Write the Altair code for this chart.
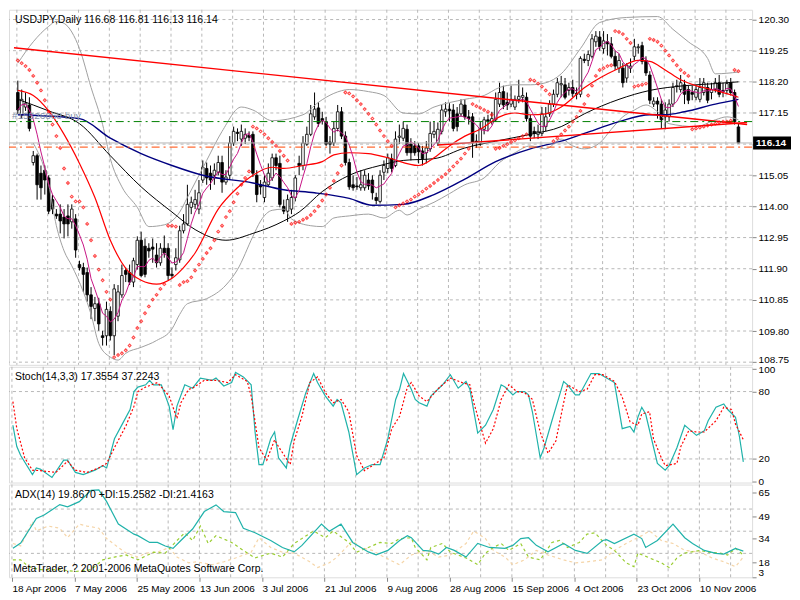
import altair as alt
import pandas as pd

# ---------------- data ----------------
dates = ["18 Apr 2006", "7 May 2006", "25 May 2006", "13 Jun 2006", "3 Jul 2006", "21 Jul 2006",
         "9 Aug 2006", "28 Aug 2006", "15 Sep 2006", "4 Oct 2006", "23 Oct 2006", "10 Nov 2006"]

opens = [117.84,117.09,117.35,117.42,115.48,115.71,115.12,115.22,114.96,114.23,
         113.74,113.74,113.64,113.68,113.48,113.58,112.04,111.94,111.77,111.02,
         110.56,110.72,109.64,109.64,110.46,109.64,110.30,111.02,111.84,111.77,
         111.45,112.04,112.86,112.66,112.59,112.63,112.36,112.10,112.59,112.59,
         111.71,112.04,112.20,113.18,113.41,113.97,114.07,113.91,114.89,115.28,
         115.12,115.05,115.15,115.48,114.82,115.05,116.14,116.50,116.27,116.30,
         116.40,116.43,115.05,114.73,114.30,114.73,114.96,115.64,115.45,114.00,
         113.84,113.91,114.30,115.45,115.38,116.10,116.43,117.02,117.32,116.96,
         116.86,116.17,116.14,116.63,117.19,116.37,115.48,114.73,114.69,114.63,
         114.63,114.89,114.89,114.30,114.17,115.15,115.28,115.61,115.38,116.33,
         116.30,116.60,116.10,116.04,116.04,115.87,115.81,115.94,116.43,116.14,
         116.53,117.19,117.28,117.25,117.12,117.12,117.42,117.02,117.02,116.20,
         116.14,116.60,116.92,116.86,116.92,117.45,117.87,117.51,117.45,117.35,
         117.61,117.68,117.68,116.96,116.53,116.43,116.46,116.69,117.12,117.45,
         117.78,118.10,118.10,117.91,118.01,117.81,117.78,118.96,118.92,119.06,
         119.55,119.71,119.32,119.55,119.48,119.06,118.66,118.66,118.33,118.66,
         119.06,119.35,119.42,118.92,118.43,117.45,117.55,117.45,117.02,117.02,
         117.45,118.04,117.94,118.10,117.94,117.84,117.68,117.61,117.84,118.01,
         117.84,117.94,118.17,117.91,117.91,118.17,117.84,116.68]
highs = [118.24,117.94,117.84,117.68,115.87,115.78,115.38,115.38,115.05,114.40,
         113.91,114.07,113.91,114.07,114.07,113.74,112.17,112.10,111.94,111.28,
         110.95,110.92,109.81,110.79,110.63,111.38,111.35,112.04,111.94,112.04,
         112.27,112.99,113.15,112.92,112.76,112.92,112.76,112.76,113.02,112.76,
         111.94,112.59,113.35,113.74,114.73,114.33,114.56,114.89,115.55,115.48,
         115.38,115.45,115.71,115.71,115.22,116.37,116.69,116.63,116.76,116.63,
         116.53,116.53,115.22,114.89,115.05,115.45,115.78,115.78,115.71,114.23,
         114.40,114.56,115.05,115.71,116.37,116.69,117.42,117.84,117.51,117.19,
         117.02,116.37,116.86,117.42,117.35,116.53,115.61,115.05,114.99,115.22,
         115.22,115.12,115.05,114.46,115.22,115.55,115.78,115.78,116.53,116.76,
         116.86,116.76,116.30,116.20,116.14,116.04,116.20,116.86,116.86,116.83,
         117.42,117.51,117.48,117.45,117.35,117.61,117.61,117.25,117.15,116.43,
         116.86,117.02,117.09,117.19,117.84,118.17,118.07,117.84,118.07,117.74,
         118.27,118.01,117.84,117.09,116.69,116.76,117.35,117.35,117.58,117.94,
         118.33,118.40,118.33,118.17,118.27,118.01,119.06,119.15,119.25,119.81,
         119.91,119.91,119.91,119.81,119.71,119.25,119.15,118.83,118.83,118.99,
         119.65,119.48,119.55,119.06,118.56,117.68,117.68,117.61,117.51,117.61,
         118.17,118.27,118.43,118.27,118.07,118.07,118.07,118.33,118.33,118.17,
         118.17,118.33,118.43,118.17,118.27,118.33,117.94,116.81]
lows = [117.12,116.96,117.22,116.53,115.38,114.23,114.23,114.40,113.74,113.74,
        113.58,113.09,112.92,112.99,113.25,112.27,111.84,111.12,110.79,110.20,
        110.13,109.81,109.31,109.31,109.48,108.99,110.13,110.92,111.45,111.35,
        111.28,111.87,111.61,111.61,112.27,112.10,111.94,112.00,112.27,111.51,
        111.58,111.84,112.10,113.09,113.35,113.74,113.91,113.74,114.79,114.73,
        114.56,114.73,115.05,114.46,114.73,114.89,116.04,116.20,116.04,116.10,
        116.20,114.99,114.14,114.40,114.14,114.66,114.86,115.22,113.97,113.74,
        113.48,113.74,114.17,115.05,115.22,116.04,116.37,116.92,116.69,116.76,
        116.04,115.78,116.04,116.53,116.27,115.38,114.56,114.53,114.56,114.53,
        114.53,114.56,114.23,114.07,114.10,114.89,115.12,115.15,115.32,116.10,
        116.20,115.71,115.55,115.71,115.45,115.38,115.45,115.84,116.30,116.04,
        116.43,117.02,116.86,116.53,116.53,117.02,116.92,116.76,115.64,115.97,
        116.04,116.43,116.53,116.76,116.86,117.35,117.28,117.25,117.35,117.25,
        117.48,117.51,116.86,116.20,116.30,116.27,116.37,116.53,117.02,117.35,
        117.68,117.68,117.61,117.74,117.68,117.61,117.68,118.83,118.73,118.99,
        119.38,119.25,119.15,119.09,118.99,118.60,118.50,118.01,118.17,118.50,
        118.92,119.15,118.79,118.40,117.45,117.35,116.96,116.63,116.60,116.86,
        117.35,117.84,117.84,117.45,117.45,117.58,117.58,117.51,117.74,117.48,
        117.61,117.84,117.68,117.68,117.78,117.74,116.76,116.13]
closes = [117.25,117.61,117.48,116.63,115.71,114.73,114.63,114.89,113.84,113.91,
          113.68,113.51,113.41,113.41,113.91,112.53,111.94,111.71,111.02,110.63,
          110.72,110.04,109.58,110.53,109.64,111.22,111.12,111.67,111.71,111.45,
          112.17,112.86,111.67,111.71,112.50,112.56,112.10,112.59,112.43,111.67,
          111.67,112.27,113.18,113.41,114.07,114.14,114.23,114.46,115.32,114.96,
          114.89,115.22,115.48,114.82,114.99,116.14,116.53,116.46,116.53,116.43,
          116.33,115.12,114.40,114.66,114.82,115.12,115.64,115.38,114.07,113.84,
          114.23,114.30,114.96,115.38,116.14,116.43,117.12,117.28,116.79,116.89,
          116.10,116.10,116.63,117.19,116.37,115.48,114.66,114.63,114.66,114.73,
          115.05,114.69,114.46,114.20,115.05,115.38,115.64,115.28,116.27,116.37,
          116.63,115.81,115.81,115.81,115.84,115.61,115.97,116.46,116.53,116.60,
          117.25,117.28,117.22,116.63,116.69,117.45,117.02,116.96,116.14,116.17,
          116.63,116.92,116.86,116.96,117.61,117.84,117.42,117.42,117.61,117.61,
          117.71,117.74,116.96,116.37,116.46,116.53,117.12,117.02,117.45,117.78,
          118.17,118.14,117.68,118.01,117.81,117.78,118.99,118.92,119.12,119.65,
          119.74,119.38,119.58,119.48,119.06,118.73,118.92,118.17,118.76,118.73,
          119.38,119.38,118.89,118.50,117.58,117.55,117.45,116.92,117.25,117.45,
          118.01,118.07,118.17,117.78,117.58,117.78,117.94,118.01,118.17,117.58,
          117.94,118.17,117.78,117.87,118.14,117.84,116.86,116.14]

sar = [118.92,118.83,118.73,118.60,118.40,118.17,117.91,117.58,117.19,116.76,
       116.37,115.97,115.28,114.79,114.33,114.17,114.17,113.97,113.41,112.86,
       112.33,111.87,111.51,111.12,110.86,
       108.92,108.99,109.05,109.15,109.31,109.58,109.90,110.13,110.40,110.63,110.86,111.02,111.22,111.38,
       113.35,113.35,113.32,
       111.35,111.45,111.48,111.61,111.84,112.04,112.23,112.43,112.59,112.86,113.15,113.35,113.64,113.84,
       114.14,114.43,114.73,114.96,115.18,
       116.69,116.63,116.53,116.43,116.30,116.17,116.04,115.87,115.71,115.55,
       113.41,113.45,113.48,113.55,113.61,113.71,113.84,114.00,114.20,114.40,114.63,114.86,115.12,115.38,
       117.84,117.81,117.71,117.58,117.45,117.28,117.12,116.96,116.76,116.56,116.37,116.20,116.04,
       113.97,114.04,114.10,114.17,114.23,114.33,114.40,114.50,114.60,114.69,114.79,114.89,114.99,115.09,
       115.22,115.35,115.48,115.61,115.78,115.94,
       117.45,117.38,117.32,117.25,117.19,117.09,
       115.94,115.97,116.04,116.10,116.17,116.23,116.30,116.37,116.43,
       118.27,118.24,118.14,118.04,117.91,117.78,
       116.20,116.30,116.43,116.56,116.69,116.86,117.02,117.22,117.45,117.74,118.07,118.40,118.60,118.66,
       118.73,118.76,
       119.91,119.88,119.81,119.65,119.51,
       118.04,118.07,118.10,118.14,
       119.65,119.61,119.55,119.42,119.25,119.09,118.92,118.76,118.60,118.50,118.40,
       116.60,116.63,116.66,116.69,116.73,116.76,116.79,116.83,116.86,116.86,116.89,
       118.60,118.56]

navy_bars = [0,16,24,32,40,48,61,69,77,86,92,100,108,116,124,133,141,147,156,164,168,173,181,187]
navy_vals = [117.09,116.96,116.30,115.78,115.38,115.05,114.79,114.56,114.46,114.27,114.04,114.07,
             114.40,114.92,115.51,115.94,116.20,116.46,116.86,117.09,117.09,117.19,117.45,117.61]
black_bars = [0,8,16,24,32,40,46,54,61,69,73,79,86,94,100,108,116,124,133,141,147,156,164,173,181,187]
black_vals = [117.61,117.22,116.79,115.71,114.66,113.81,113.22,112.86,113.09,113.51,113.81,114.50,
              115.05,115.38,115.55,115.61,115.97,116.20,116.43,116.69,117.12,117.61,117.91,118.07,
              118.14,118.20]
red_bars = [0,4,8,12,16,20,24,28,32,36,40,43,46,52,57,61,66,69,74,79,82,86,91,96,104,108,112,116,
            120,125,129,133,137,141,147,156,161,164,168,172,176,181,187]
red_vals = [117.91,117.74,117.22,116.43,115.45,114.30,112.86,111.91,111.51,111.38,111.58,111.94,
            112.43,113.91,114.63,115.05,115.32,115.28,115.38,115.51,115.74,115.81,115.78,115.64,
            115.38,115.64,116.04,116.37,116.60,117.02,117.15,117.09,117.12,117.35,118.00,118.66,
            118.92,118.89,118.60,118.27,118.07,117.91,117.68]
bb_up_bars = [0,4,8,10,12,16,19,22,24,27,31,34,38,42,44,49,53,58,61,66,74,78,82,86,91,95,100,104,
              108,116,121,125,129,133,137,141,146,151,158,166,170,174,179,181,187]
bb_up_vals = [118.83,119.55,120.07,120.24,120.17,119.32,118.01,116.76,115.61,114.66,113.97,113.32,
              113.38,113.81,114.30,115.55,116.53,117.35,117.25,116.89,117.09,117.51,117.81,117.94,
              117.87,117.74,117.15,117.12,117.35,117.61,117.74,118.01,118.10,118.10,118.17,118.47,
              119.32,120.20,120.37,120.40,119.97,119.55,118.99,118.47,118.53]
bb_lo_bars = [4,8,10,12,14,17,19,21,24,26,28,32,36,40,42,44,49,54,57,61,63,66,69,71,76,79,82,86,
              91,95,99,101,104,108,112,116,121,125,129,133,137,141,144,147,151,154,157,160,163,166,
              169,176,181,184,187]
bb_lo_vals = [116.14,114.73,113.35,112.50,112.00,111.12,110.36,109.38,108.92,108.82,109.05,109.25,
              109.48,109.87,110.36,110.72,110.89,111.35,111.87,112.99,113.51,113.87,113.91,113.58,
              113.35,113.32,113.61,113.68,113.74,113.61,113.87,113.71,113.91,114.14,114.43,114.73,
              114.96,115.48,115.81,116.04,115.94,116.27,116.04,115.94,116.14,116.60,117.02,117.25,
              117.42,117.19,116.79,116.69,116.92,117.02,116.92]

trend_down_bars = [-1, 189.25]
trend_down_vals = [119.35, 116.76]
trend_up_bars = [109, 189.25]
trend_up_vals = [116.07, 116.83]
level_green = [116.86]
level_orange = [116.00]
level_bid = [116.14]
order_label = ["#15526868 buy"]
order_price = [117.05]

price_ticks = [120.30, 119.25, 118.20, 117.15, 116.10, 115.05, 114.00, 112.95, 111.90, 110.85, 109.80, 108.75]
sto_ticks = [0, 20, 80, 100]
sto_levels = [20, 80]
adx_ticks = [65, 49, 34, 18, 7.8]
adx_grid_levels = [54, 39, 24]

k_bars = [0,1,2,5,6,7,10,13,14,16,18,21,23,24,25,26,28,30,31,32,34,35,36,38,40,41,42,44,46,48,51,52,54,
          56,57,59,61,62,63,64,66,67,68,70,71,73,75,77,78,80,82,83,84,86,88,90,92,94,96,98,99,100,102,
          103,104,106,107,110,112,114,116,117,119,121,123,125,126,128,129,131,132,133,135,136,138,141,
          142,144,145,148,150,152,154,156,158,159,160,161,162,165,167,168,170,172,173,175,177,178,180,
          182,183,185,186,187]
k_vals = [50,31,23,6,12,11,3.5,19,19,8,6,10,14,12,25,38,51,64,80,84,86,90,86,86,67,46,67,86,83,92,90,92,
          85,88,97,93,86,44,15,15,38,44,21,12,32,56,79,96,88,76,67,73,70,44,6,12,15,15,38,73,82,96,82,
          73,70,67,76,86,95,83,89,82,43,50,64,86,84,77,80,80,77,62,21,30,54,89,86,77,77,96,96,92,88,47,
          49,44,57,66,60,16,10,14,30,50,47,41,45,54,66,69,64,57,40,17.36]
d_bars = [0,1,3,5,7,11,14,16,19,22,24,26,29,31,32,34,37,38,40,42,43,45,46,49,52,55,57,60,61,63,65,67,68,
          71,72,74,76,78,80,82,84,86,88,90,92,95,97,99,101,102,104,106,109,112,115,117,118,121,123,125,
          127,129,131,133,135,137,139,141,142,145,147,149,151,154,156,158,160,161,163,164,166,167,170,
          171,173,175,177,180,182,184,185,187]
d_vals = [71,47,21,10,9.6,8,18,10,8,12,16,30,50,67,80,84,88,84,76,56,70,82,83,90,90,88,95,89,76,30,19,37,
          31,15,36,58,88,93,79,70,73,62,23,9.6,14,21,47,58,84,88,76,71,83,92,88,86,70,34,47,73,86,80,79,
          73,44,25,36,70,86,80,82,95,95,89,75,53,50,60,62,38,21,14,16,31,45,44,44,54,66,64,51,37.22]

adx_bars = [0,2,6,8,12,14,17,20,22,24,27,31,32,35,37,39,41,43,46,49,52,54,57,59,62,66,69,72,74,79,81,84,
            87,91,93,96,99,101,102,105,107,109,111,113,116,119,122,126,128,130,132,134,137,141,144,147,
            151,152,154,159,161,162,165,169,172,174,177,180,182,185,187]
adx_vals = [27.4,31,47.7,50,57,55.5,59,66.6,67,59,43.8,37,36,31.4,31.4,29,27.4,32.7,40.5,52.3,56.8,52.3,
            51.6,41,38,32.7,28,25,29.4,43.8,39,43.8,31.4,25,23,26,32.7,36,34.6,26,25.5,23.5,28,26,21.5,
            30.7,28,27.4,29.4,34,34.6,29.4,25,30.7,26,24,32.7,33.3,30.7,37,34,28,32.7,43.8,34.6,30.7,26,
            24,23.5,27.4,25.5]
pdi_bars = [0,2,4,7,12,16,20,23,26,29,32,36,39,42,44,46,48,50,52,56,59,62,66,69,72,74,77,80,82,86,88,91,
            94,97,99,102,103,106,107,110,112,116,119,121,123,125,127,130,132,135,138,140,142,145,147,149,
            152,154,157,159,160,163,166,168,170,172,176,178,181,183,185,187]
pdi_vals = [19.6,19.6,15,13,13,11.7,13,19.6,21.5,22.9,19.6,24.8,24.2,32.7,37.9,32.7,42.5,30.7,36,31.4,26,
            20.9,24.2,21.5,30.7,34,39.2,34.6,39.2,31.4,24.8,28,31.4,30.7,34,34.6,28,19.6,28,30.7,24.8,
            20.9,16.3,24.2,28,30.7,26,30.7,21.5,19.6,31.4,32.7,28,31.4,37,37.9,29.4,26,17.6,15,24.2,20.9,
            17.6,14.4,20.9,24.2,26,24.8,24.2,22.9,27.4,22.9]
mdi_bars = [0,2,5,6,9,12,14,17,19,22,24,27,29,32,34,37,40,42,45,47,51,54,57,61,63,66,69,72,76,78,81,83,
            87,89,92,95,99,102,106,109,112,116,118,121,123,126,128,131,134,137,141,144,147,151,154,157,
            161,163,166,169,172,176,179,182,185,187]
mdi_vals = [30.7,29,45.7,39.2,42.5,41,34.6,43.8,42.5,41,34,28,24.2,21.5,24.2,24.8,28,21.5,17.6,18.3,16.3,
            18.3,20.9,24.8,34.6,28,24.8,24.2,18.3,14.4,17.6,21.5,32.7,28,26,21.5,16.3,22.9,26,21.5,22.9,
            30.7,39.2,34,26,21.5,16.3,19.6,26,22.9,19.6,17.6,18.3,19.6,26,30.7,36,39.2,32.7,30.7,26,24.8,
            20.9,18.3,15,21.5]

main_title = ["USDJPY,Daily  116.68 116.81 116.13 116.14"]
sto_title = ["Stoch(14,3,3) 17.3554 37.2243"]
adx_title = ["ADX(14) 19.8670 +DI:15.2582 -DI:21.4163"]
copyright_text = ["MetaTrader, ? 2001-2006 MetaQuotes Software Corp."]

# ---------------- layout / styles ----------------
W = 745
H_MAIN, H_STO, H_ADX = 356, 116, 93
FONT = "Liberation Sans"
GRIDC = "#b8b8b8"
GRID_X = [-0.25 + 8 * k for k in range(24)]
xs = alt.Scale(domain=[-1, 189.25], nice=False, zero=False)
ys_main = alt.Scale(domain=[108.66, 120.63], nice=False, zero=False)
ys_sto = alt.Scale(domain=[-1, 102], nice=False, zero=False)
ys_adx = alt.Scale(domain=[7.8, 70.6], nice=False, zero=False)

js_dates = "[" + ",".join("'" + d + "'" for d in dates) + "]"
adx_x_axis = alt.Axis(
    values=GRID_X, grid=False, tickSize=4, labelPadding=2, domain=False, title=None,
    labelAlign="left", labelOverlap=False, labelFlush=False, labelBound=False,
    labelExpr="(round(datum.value + 0.25) % 16 == 0) ? " + js_dates +
              "[round((datum.value + 0.25) / 16)] : ''",
    tickOpacity={"condition": {"test": "round(datum.value + 0.25) % 16 != 0", "value": 0}, "value": 1})
main_y_axis = alt.Axis(orient="right", values=price_ticks, grid=False, tickSize=4, labelPadding=2,
                       domain=False, title=None, labelOverlap=False, labelFlush=False,
                       labelExpr="abs(datum.value - 116.1) < 0.001 ? '' : format(datum.value, '.2f')",
                       labelBaseline={"condition": {"test": "datum.value < 109", "value": "alphabetic"},
                                      "value": "middle"})
sto_axis = alt.Axis(orient="right", values=sto_ticks, grid=False, tickSize=4, labelPadding=2,
                    domain=False, title=None, labelFlush=True, labelOverlap=False)
adx_y_axis = alt.Axis(orient="right", values=adx_ticks, grid=False, tickSize=4,
                      labelPadding=2, domain=False, title=None, labelOverlap=False, labelFlush=False,
                      labelExpr="datum.value < 10 ? '3' : datum.label",
                      labelBaseline={"condition": {"test": "datum.value < 10", "value": "bottom"},
                                     "value": "middle"})

n = min(len(opens), len(highs), len(lows), len(closes))
candles = pd.DataFrame({"i": list(range(n)), "o": opens[:n], "h": highs[:n],
                        "l": lows[:n], "c": closes[:n]})
sar_df = pd.DataFrame({"i": list(range(len(sar))), "v": sar})


def X(xaxis):
    return alt.X("i:Q", scale=xs, axis=xaxis, title=None)


def Y(field, scale, yaxis):
    return alt.Y(field, scale=scale, axis=yaxis, title=None)


def line(bars, vals, scale, xaxis, yaxis, color, width=1.0, dash=None, interp="monotone"):
    df = pd.DataFrame({"i": bars, "v": vals})
    kw = dict(color=color, strokeWidth=width, interpolate=interp, clip=True)
    if dash:
        kw["strokeDash"] = dash
    return alt.Chart(df).mark_line(**kw).encode(x=X(xaxis), y=Y("v:Q", scale, yaxis))


def hline(vals, scale, yaxis, color, dash=None, width=1.0):
    df = pd.DataFrame({"v": vals})
    kw = dict(color=color, strokeWidth=width)
    if dash:
        kw["strokeDash"] = dash
    return alt.Chart(df).mark_rule(**kw).encode(y=Y("v:Q", scale, yaxis))


def vgrid(xaxis):
    df = pd.DataFrame({"i": GRID_X})
    return alt.Chart(df).mark_rule(color=GRIDC, strokeWidth=1, strokeDash=[3, 3]).encode(x=X(xaxis))


def label(texts, ypix, size=10.5, xpix=6):
    df = pd.DataFrame({"t": texts})
    return alt.Chart(df).mark_text(align="left", baseline="middle", fontSize=size, font=FONT,
                                   color="black").encode(x=alt.value(xpix), y=alt.value(ypix),
                                                          text="t:N")


# ---------------- main price panel ----------------
XA, YA = None, main_y_axis
wicks = alt.Chart(candles).mark_rule(color="black", strokeWidth=1).encode(
    x=X(XA), y=Y("l:Q", ys_main, YA), y2="h:Q")
bodies = alt.Chart(candles).mark_bar(size=2.6, stroke="black", strokeWidth=0.8).encode(
    x=X(XA), y=Y("o:Q", ys_main, YA), y2="c:Q",
    fill=alt.condition("datum.c >= datum.o", alt.value("white"), alt.value("black")))

magenta = alt.Chart(candles).transform_window(
    ma="mean(c)", frame=[-4, 0], sort=[{"field": "i"}]
).mark_line(color="#c71585", strokeWidth=1, clip=True).encode(x=X(XA), y=Y("ma:Q", ys_main, YA))

sar_pts = alt.Chart(sar_df).mark_point(shape="diamond", size=8, filled=False, color="red",
                                        strokeWidth=1.1, clip=True).encode(
    x=X(XA), y=Y("v:Q", ys_main, YA))

order_df = pd.DataFrame({"v": order_price, "t": order_label})
order_txt = alt.Chart(order_df).mark_text(align="left", baseline="middle", fontSize=10, font=FONT,
                                          color="#7f8fa8").encode(
    x=alt.value(3), y=Y("v:Q", ys_main, YA), text="t:N")

bid_df = pd.DataFrame({"v": level_bid})
bid_box = alt.Chart(bid_df).mark_tick(orient="horizontal", thickness=13, size=38, color="black",
                                      opacity=1, clip=False).encode(
    x=alt.value(W + 20), y=Y("v:Q", ys_main, YA))
bid_txt = alt.Chart(bid_df).mark_text(align="left", baseline="middle", fontSize=10, font=FONT,
                                      fontWeight="bold", color="white", clip=False).encode(
    x=alt.value(W + 4), y=Y("v:Q", ys_main, YA), text=alt.Text("v:Q", format=".2f"))

main = alt.layer(
    vgrid(XA),
    hline(price_ticks, ys_main, YA, GRIDC, [3, 3]),
    wicks, bodies,
    line(bb_up_bars, bb_up_vals, ys_main, XA, YA, "#a0a0a0"),
    line(bb_lo_bars, bb_lo_vals, ys_main, XA, YA, "#a0a0a0"),
    line(navy_bars, navy_vals, ys_main, XA, YA, "#000080", 1.4),
    line(black_bars, black_vals, ys_main, XA, YA, "black", 1.0),
    line(red_bars, red_vals, ys_main, XA, YA, "red", 1.2),
    magenta,
    line(trend_down_bars, trend_down_vals, ys_main, XA, YA, "red", 1.4, interp="linear"),
    line(trend_up_bars, trend_up_vals, ys_main, XA, YA, "red", 1.4, interp="linear"),
    hline(level_green, ys_main, YA, "#008000", [8, 4, 2, 4]),
    hline(level_orange, ys_main, YA, "#ff4500", [8, 4, 2, 4]),
    hline(level_bid, ys_main, YA, "#b8b8b8"),
    sar_pts, order_txt,
    label(main_title, 10),
    bid_box, bid_txt,
).properties(width=W, height=H_MAIN)

# ---------------- stochastic panel ----------------
sto = alt.layer(
    vgrid(None),
    hline(sto_levels, ys_sto, sto_axis, GRIDC, [3, 3]),
    line(k_bars, k_vals, ys_sto, None, sto_axis, "#20b2aa", 1.2, interp="linear"),
    line(d_bars, d_vals, ys_sto, None, sto_axis, "red", 1.2, dash=[2, 2], interp="linear"),
    label(sto_title, 10),
).properties(width=W, height=H_STO)

# ---------------- ADX panel ----------------
adx = alt.layer(
    vgrid(adx_x_axis),
    hline(adx_grid_levels, ys_adx, adx_y_axis, GRIDC, [3, 3]),
    line(mdi_bars, mdi_vals, ys_adx, adx_x_axis, adx_y_axis, "#f5d5a8", 1.2, dash=[3, 3], interp="linear"),
    line(pdi_bars, pdi_vals, ys_adx, adx_x_axis, adx_y_axis, "#9acd32", 1.2, dash=[3, 3], interp="linear"),
    line(adx_bars, adx_vals, ys_adx, adx_x_axis, adx_y_axis, "#20b2aa", 1.2, interp="linear"),
    label(adx_title, 10),
    label(copyright_text, 85, xpix=4),
).properties(width=W, height=H_ADX)

chart = alt.vconcat(main, sto, adx, spacing=2, bounds="flush").properties(
    padding={"left": 0, "top": 0, "right": 0, "bottom": 0}
).configure_view(stroke="black", strokeWidth=1).configure_axis(
    labelFont=FONT, labelFontSize=10, labelColor="black", tickColor="black"
).configure(background="white")

chart.save("out.html", embed_options={"renderer": "svg", "actions": False})
